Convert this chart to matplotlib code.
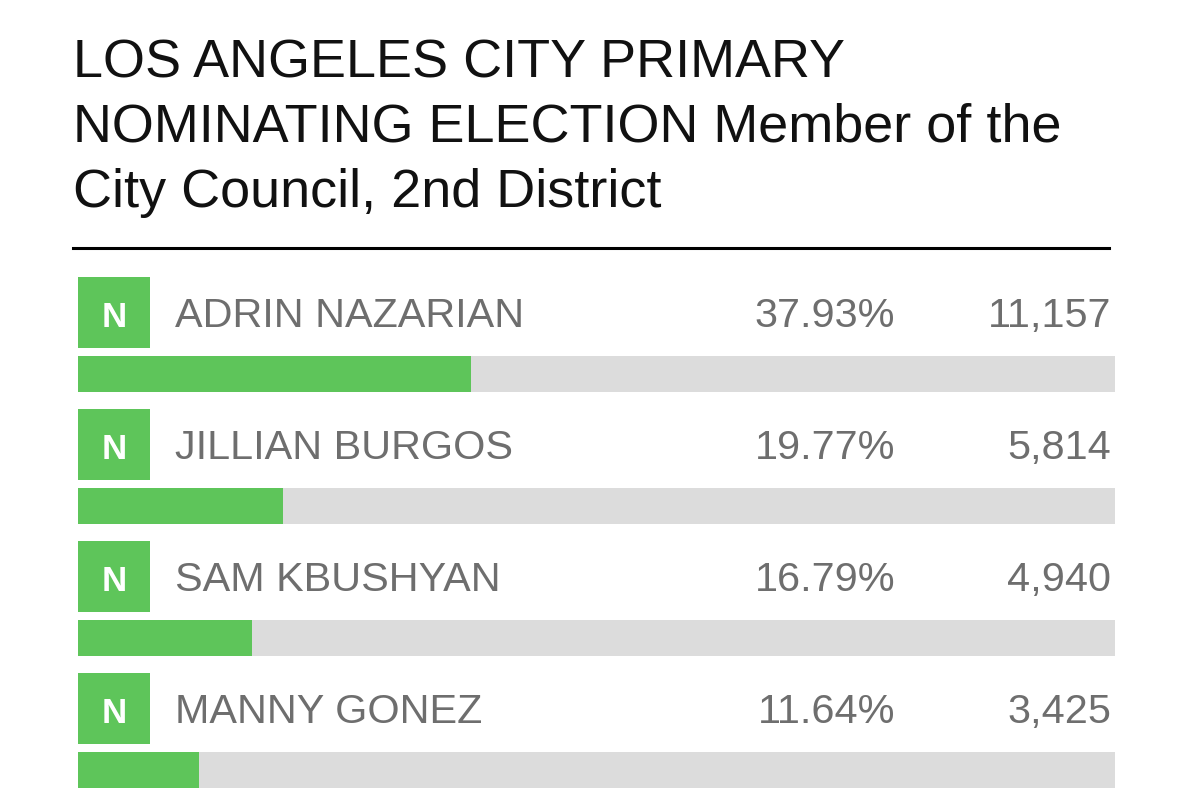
import matplotlib
matplotlib.use("Agg")
import matplotlib.pyplot as plt
from matplotlib.patches import Rectangle
from matplotlib.transforms import blended_transform_factory

# ---- data ----
title_lines = ["LOS ANGELES CITY PRIMARY",
               "NOMINATING ELECTION Member of the",
               "City Council, 2nd District"]
candidates = ["ADRIN NAZARIAN", "JILLIAN BURGOS", "SAM KBUSHYAN", "MANNY GONEZ"]
percents = [37.93, 19.77, 16.79, 11.64]
votes = [11157, 5814, 4940, 3425]
badges = ["N", "N", "N", "N"]

GREEN = "#5ec55a"
TRACK = "#dcdcdc"
GRAY = "#6e6e6e"
FONT = "Liberation Sans"

W, H = 1179, 797
fig = plt.figure(figsize=(W / 100, H / 100), dpi=100)
fig.patch.set_facecolor("white")

# bar axes: x in percent (0-100) spanning px 78..1115, y in pixel rows
x0, x1 = 78, 1115
ax = fig.add_axes([x0 / W, 0, (x1 - x0) / W, 1])
ax.set_xlim(0, 100)
ax.set_ylim(H, 0)
ax.axis("off")

fx = blended_transform_factory(fig.transFigure, ax.transData)

# title
for i, line in enumerate(title_lines):
    fig.text(73 / W, 1 - (77 + i * 65) / H, line, fontsize=38.9, family=FONT,
             color="#111111", ha="left", va="baseline")

# rule under title
fig.add_artist(plt.Line2D([73 / W, 1109 / W], [1 - 248 / H] * 2,
                          color="black", lw=2.2, transform=fig.transFigure))

pitch = 132
for i, (name, p, v, b) in enumerate(zip(candidates, percents, votes, badges)):
    bar_c = 374 + i * pitch
    ax.barh([bar_c], [100], height=36, color=TRACK, left=0, zorder=1)
    ax.barh([bar_c], [p], height=36, color=GREEN, left=0, zorder=2)
    # badge
    top = 277 + i * pitch
    ax.add_patch(Rectangle((78 / W, top), 72 / W, 71, transform=fx,
                           facecolor=GREEN, edgecolor="none", zorder=3))
    ax.text(114 / W, top + 50, b, transform=fx, ha="center", va="baseline",
            fontsize=25, fontweight="bold", color="white", family=FONT, zorder=4)
    base = 327 + i * pitch
    ax.text(175 / W, base, name, transform=fx, ha="left", va="baseline",
            fontsize=29.8, color=GRAY, family=FONT)
    ax.text(895 / W, base, f"{p:.2f}%", transform=fx, ha="right", va="baseline",
            fontsize=29.8, color=GRAY, family=FONT)
    ax.text(1111 / W, base, f"{v:,}", transform=fx, ha="right", va="baseline",
            fontsize=29.8, color=GRAY, family=FONT)

fig.savefig("out.png", dpi=100, facecolor="white")
